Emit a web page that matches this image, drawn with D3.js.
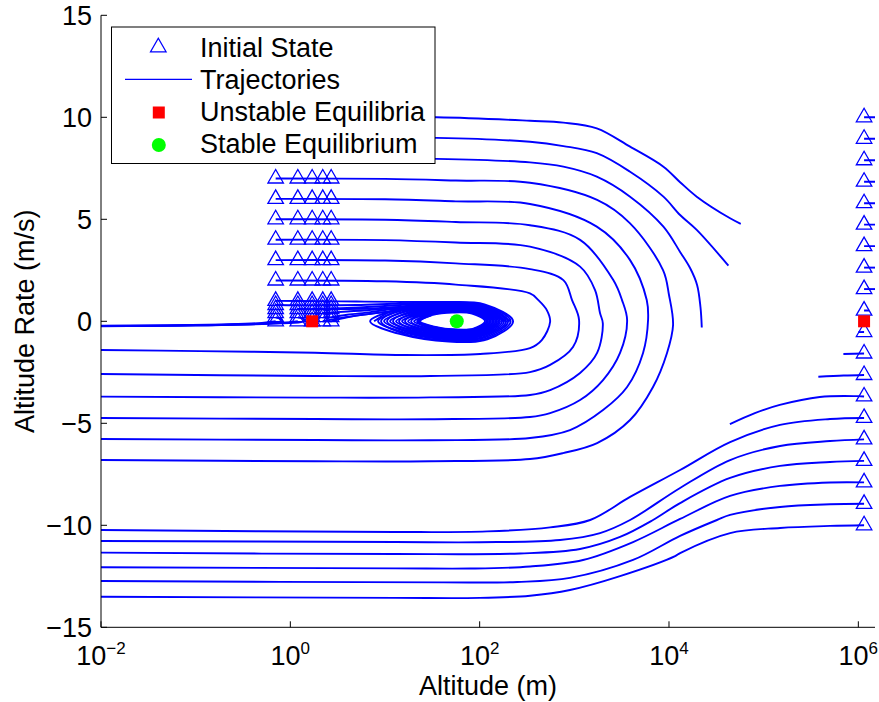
<!DOCTYPE html>
<html><head><meta charset="utf-8">
<script src="https://cdn.jsdelivr.net/npm/d3@7"></script>
<style>body{margin:0;background:#fff}svg{display:block}text{font-family:"Liberation Sans",Arial,Helvetica,sans-serif}</style>
</head><body><svg id="c" width="879" height="702"></svg>
<script>
// ---------- data ----------
const xTickExponents = [-2, 0, 2, 4, 6];
const yTicks = [-15, -10, -5, 0, 5, 10, 15];
const xDomain = [0.01, 1.5e6];
const yDomain = [-15, 15];

// initial states (left block and right column)
const leftAlt0 = [0.7, 1.2, 1.7, 2.2, 2.7];
const leftRate0 = [10, 9, 8, 7, 6, 5, 4, 3, 2, 1, 0.8, 0.6, 0.4, 0.2, 0];
const rightAlt0 = [1.15e6];
const rightRate0 = [10, 8.947, 7.895, 6.842, 5.789, 4.737, 3.684, 2.632, 1.579, 0.526,
  -0.526, -1.579, -2.632, -3.684, -4.737, -5.789, -6.842, -7.895, -8.947, -10];

// equilibria
const unstableAlt = [1.7, 1.15e6];
const unstableRate = [0, 0];
const stableAlt = [57.3];
const stableRate = [0];

// trajectories: [altitude (m), altitude rate (m/s)]
const trajTop10 = [[0.7,10],[35,10.0],[340,9.83],[766,9.74],[1726,9.46],[3880,8.56],[8730,7.58],[13100,6.82],[19630,6.11],[44200,5.05],[57300,4.78]];
const trajTop9 = [[0.7,9],[35,8.99],[340,8.8],[766,8.59],[1726,8.24],[3880,7.33],[8730,6.11],[13100,5.21],[19630,4.48],[42400,2.73]];
const trajTop8 = [[0.7,8],[35,7.96],[340,7.79],[766,7.58],[1726,7.09],[3880,6.11],[8730,4.64],[13100,3.4],[16700,2.61],[19800,1.78],[21500,0.7],[22200,-0.3]];
const trajU7 = [[0.7,7],[10,6.98],[56,6.9],[340,6.79],[1740,5.95],[3880,4.8],[8650,2.51],[10000,1.29],[11040,-0.18],[9530,-1.55],[6780,-3.22],[3880,-4.84],[1740,-5.97],[760,-6.46],[340,-6.75],[30,-6.86],[1.82,-6.86],[0.01,-6.8]];
const trajU6 = [[0.7,6],[10,5.98],[56,5.88],[340,5.75],[1726,4.64],[3880,3.0],[5820,1.04],[6010,0.06],[5320,-1.55],[3610,-3.22],[2010,-4.35],[900,-5.33],[340,-5.72],[30,-5.83],[1.82,-5.82],[0.01,-5.77]];
const trajU5 = [[0.7,5],[10,4.98],[56,4.87],[340,4.71],[1150,3.99],[2580,2.02],[3190,1.04],[3610,0.06],[3040,-1.55],[2010,-2.88],[1150,-3.86],[555,-4.5],[340,-4.69],[30,-4.8],[1.82,-4.79],[0.01,-4.74]];
const trajU4 = [[0.7,4],[10,3.98],[56,3.86],[340,3.66],[1150,2.68],[1656,1.53],[1870,0.39],[2000,-0.1],[1740,-1.55],[1150,-2.53],[555,-3.37],[340,-3.61],[30,-3.73],[1.82,-3.74],[0.01,-3.69]];
const trajU3 = [[0.7,3],[10,2.98],[56,2.84],[340,2.56],[766,2.02],[946,1.04],[1122,0.06],[968,-1.26],[555,-2.14],[340,-2.49],[30,-2.68],[1.82,-2.68],[0.01,-2.58]];
const trajU2 = [[0.7,2],[10,1.96],[56,1.8],[340,1.37],[417,1.04],[512,0.55],[555,-0.02],[453,-0.92],[340,-1.31],[101,-1.6],[14.4,-1.65],[1.82,-1.54],[0.111,-1.46],[0.01,-1.41]];
const trajSpiral = [[0.7,1.0],[2,0.99],[5,0.97],[13,0.95],[39.6,0.946],[112.4,0.832],[225.4,0],[120.5,-0.891],[47.1,-0.99],[14.95,-0.644],[6.96,0],
  [14.93,0.629],[41.1,0.873],[106,0.768],[199.5,0],[112.9,-0.803],[48.1,-0.892],[16.94,-0.58],[8.45,0],
  [16.54,0.575],[42.1,0.799],[101,0.703],[181,0],[107.1,-0.715],[48.7,-0.794],[18.58,-0.516],[9.78,0],
  [18.31,0.522],[43.1,0.725],[96.2,0.638],[164.3,0],[101.5,-0.649],[49.3,-0.721],[20.4,-0.469],[11.31,0],
  [20.4,0.469],[44.7,0.652],[93.4,0.574],[152.7,0],[98.1,-0.582],[50.5,-0.647],[22.5,-0.421],[13.09,0],
  [22.7,0.416],[46.4,0.578],[90.7,0.509],[141.9,0],[94.9,-0.517],[51.9,-0.574],[24.8,-0.373],[15.15,0],
  [25.2,0.381],[48.1,0.529],[88.1,0.466],[131.9,0],[91.8,-0.45],[53.2,-0.5],[27.3,-0.325],[17.53,0],
  [28.0,0.346],[49.9,0.48],[85.6,0.422],[122.7,0],[88.7,-0.383],[54.6,-0.426],[30.1,-0.277],[20.3,0],
  [31.2,0.31],[51.7,0.431],[83.1,0.379],[114,0],[85.8,-0.362],[56,-0.402],[33.2,-0.261],[23.5,0],[31.5,0.3]];
const trajSpiral2 = [[7.67,0],[13.94,0.657],[40.3,0.912],[109.1,0.803],[212.1,0],[116.7,-0.847],[47.6,-0.941],[15.92,-0.612],
  [9.09,0],[15.71,0.603],[41.6,0.838],[103.5,0.737],[190.1,0],[109.9,-0.759],[48.4,-0.843],[17.74,-0.548],
  [10.52,0],[17.4,0.551],[42.6,0.765],[98.6,0.673],[172.5,0],[104.2,-0.68],[49.0,-0.755],[19.46,-0.491],
  [12.17,0],[19.32,0.498],[43.9,0.691],[94.8,0.608],[158.3,0],[99.8,-0.613],[49.9,-0.681],[21.4,-0.443],
  [14.08,0],[21.5,0.445],[45.5,0.618],[92.1,0.544],[147.2,0],[96.5,-0.547],[51.2,-0.608],[23.6,-0.395],
  [16.29,0],[23.9,0.399],[47.2,0.554],[89.4,0.488],[136.9,0],[93.3,-0.481],[52.5,-0.534],[26.0,-0.347],
  [18.86,0],[26.6,0.364],[49.0,0.505],[86.9,0.444],[127.3,0],[90.2,-0.415],[53.9,-0.461],[28.7,-0.3],
  [21.83,0],[29.6,0.328],[50.8,0.456],[84.4,0.401],[118.3,0],[87.3,-0.371],[55.3,-0.412],[31.6,-0.268],[22.8,0],[30.5,0.29]];
const trajEntry1 = [[2.7,0.2],[4,0.32],[7,0.45],[12,0.6],[20,0.72],[43,0.8],[100,0.7],[181,0]];
const trajEntry2 = [[2.2,0.4],[4,0.48],[8,0.58],[15,0.7],[30,0.8],[60,0.82],[110,0.68],[190,0]];
const trajEntry3 = [[1.7,0.6],[4,0.65],[10,0.75],[25,0.86],[45,0.9],[110,0.79],[210,0]];
const trajEntry4 = [[0.7,0.8],[2,0.78],[5,0.8],[12,0.86],[30,0.92],[60,0.9]];
const trajEntry5 = [[1.2,0.6],[3,0.6],[7,0.63],[15,0.72],[35,0.8]];
const trajEntry6 = [[2.2,0],[3,0.12],[5,0.28],[10,0.45],[18,0.6],[35,0.7]];
const trajEntry7 = [[2.7,0],[4,0.2],[8,0.4],[15,0.55],[30,0.66]];
const trajFall1 = [[0.7,0],[0.5,-0.08],[0.2,-0.15],[0.05,-0.2],[0.01,-0.23]];
const trajFall2 = [[1.2,0],[1.0,-0.05],[0.5,-0.12],[0.1,-0.19],[0.01,-0.24]];
const trajFall3 = [[0.7,0.2],[0.8,0.1],[0.82,0],[0.6,-0.1],[0.1,-0.2],[0.01,-0.22]];
const trajFall4 = [[1.2,0.2],[1.4,0.08],[1.35,-0.02],[0.8,-0.1],[0.1,-0.2],[0.01,-0.23]];
// right column
const trajR10 = [[1.15e6,10],[2e6,10]];
const trajR9 = [[1.15e6,8.947],[2e6,8.947]];
const trajR8 = [[1.15e6,7.895],[2e6,7.895]];
const trajR7 = [[1.15e6,6.842],[2e6,6.842]];
const trajR6 = [[1.15e6,5.789],[2e6,5.789]];
const trajR5 = [[1.15e6,4.737],[2e6,4.737]];
const trajR4 = [[1.15e6,3.684],[2e6,3.684]];
const trajR3 = [[1.15e6,2.632],[2e6,2.632]];
const trajR2 = [[1.15e6,1.579],[2e6,1.579]];
const trajR1 = [[1.15e6,0.526],[1.3e6,0.53]];
const trajRm1 = [[1.15e6,-0.526],[1.0e6,-0.53]];
const trajRm2 = [[1.15e6,-1.579],[695000,-1.6]];
const trajRm3 = [[1.15e6,-2.632],[700000,-2.66],[378000,-2.72]];
const trajRm4 = [[1.15e6,-3.684],[970000,-3.67],[392000,-3.71],[148000,-4.1],[80700,-4.5],[44000,-5.04]];
const trajRm5 = [[1.15e6,-4.737],[502000,-4.79],[149000,-5.08],[44200,-5.92],[13100,-7.29],[3880,-8.61],[1470,-9.74],[555,-10.1],[120,-10.3],[12.8,-10.33],[0.01,-10.23]];
const trajRm6 = [[1.15e6,-5.789],[502000,-5.87],[149000,-6.11],[44200,-6.8],[13100,-8.17],[3880,-9.74],[1870,-10.38],[706,-10.72],[100,-10.83],[12.8,-10.82],[0.01,-10.77]];
const trajRm7 = [[1.15e6,-6.842],[502000,-6.9],[149000,-7.09],[44200,-7.68],[13100,-8.91],[6780,-9.74],[3040,-10.57],[1148,-11.16],[267,-11.38],[12.8,-11.41],[0.01,-11.34]];
const trajRm8 = [[1.15e6,-7.895],[502000,-7.9],[149000,-8.07],[44200,-8.56],[13100,-9.69],[4170,-10.82],[1235,-11.7],[341,-12.02],[80,-12.12],[12.8,-12.11],[0.01,-12.06]];
const trajRm9 = [[1.15e6,-8.947],[502000,-8.97],[149000,-9.1],[44200,-9.49],[32100,-9.74],[13100,-10.52],[4170,-11.7],[900,-12.58],[250,-12.78],[40,-12.8],[0.01,-12.73]];
const trajRm10 = [[1.15e6,-10],[502000,-10.03],[149000,-10.13],[44200,-10.38],[13100,-11.36],[11600,-11.51],[3040,-12.49],[900,-13.17],[341,-13.45],[100,-13.56],[12.8,-13.56],[0.01,-13.5]];

const trajectories = [trajTop10, trajTop9, trajTop8, trajU7, trajU6, trajU5, trajU4, trajU3, trajU2, trajSpiral, trajSpiral2,
  trajEntry1, trajEntry2, trajEntry3, trajEntry4, trajEntry5, trajEntry6, trajEntry7,
  trajFall1, trajFall2, trajFall3, trajFall4,
  trajR10, trajR9, trajR8, trajR7, trajR6, trajR5, trajR4, trajR3, trajR2, trajR1, trajRm1, trajRm2, trajRm3, trajRm4,
  trajRm5, trajRm6, trajRm7, trajRm8, trajRm9, trajRm10];

const legendLabels = ["Initial State", "Trajectories", "Unstable Equilibria", "Stable Equilibrium"];

// ---------- drawing ----------
const svg = d3.select("#c");
const M = {left: 101, right: 875, top: 15.3, bottom: 627.3};
const x = d3.scaleLog().domain(xDomain).range([M.left, M.right]);
const y = d3.scaleLinear().domain(yDomain).range([M.bottom, M.top]);
const BLUE = "#0000ff", RED = "#ff0000", GREEN = "#00ff00";
const FS = 27;

svg.append("clipPath").attr("id", "clip").append("rect")
  .attr("x", M.left).attr("y", M.top).attr("width", M.right - M.left).attr("height", M.bottom - M.top);

const plot = svg.append("g").attr("clip-path", "url(#clip)");
const line = d3.line().x(d => x(d[0])).y(d => y(d[1])).curve(d3.curveCatmullRom.alpha(0.5));
plot.selectAll("path.traj").data(trajectories).join("path").attr("class", "traj")
  .attr("d", line).attr("fill", "none").attr("stroke", BLUE).attr("stroke-width", 1.9)
  .attr("stroke-linejoin", "round");

// triangle marker, centroid at the data point
const TW = 15.5, TH = 13.5;
const triPath = `M0,${-2*TH/3}L${TW/2},${TH/3}L${-TW/2},${TH/3}Z`;
const initStates = [];
leftRate0.forEach(v => leftAlt0.forEach(a => initStates.push([a, v])));
rightRate0.forEach(v => rightAlt0.forEach(a => initStates.push([a, v])));
plot.selectAll("path.tri").data(initStates).join("path").attr("class", "tri")
  .attr("d", triPath).attr("transform", d => `translate(${x(d[0])},${y(d[1])})`)
  .attr("fill", "none").attr("stroke", BLUE).attr("stroke-width", 1.3);

plot.selectAll("rect.ueq").data(d3.zip(unstableAlt, unstableRate)).join("rect").attr("class", "ueq")
  .attr("x", d => x(d[0]) - 6).attr("y", d => y(d[1]) - 6).attr("width", 12).attr("height", 12).attr("fill", RED);
plot.selectAll("circle.seq").data(d3.zip(stableAlt, stableRate)).join("circle").attr("class", "seq")
  .attr("cx", d => x(d[0])).attr("cy", d => y(d[1])).attr("r", 7).attr("fill", GREEN);

// axes
const ax = svg.append("g").attr("stroke", "#000").attr("stroke-width", 1);
ax.append("line").attr("x1", M.left).attr("x2", M.left).attr("y1", M.top).attr("y2", M.bottom);
ax.append("line").attr("x1", M.left).attr("x2", M.right).attr("y1", M.bottom).attr("y2", M.bottom);
yTicks.forEach(t => ax.append("line").attr("x1", M.left).attr("x2", M.left + 6).attr("y1", y(t)).attr("y2", y(t)));
xTickExponents.forEach(e => ax.append("line").attr("x1", x(Math.pow(10, e))).attr("x2", x(Math.pow(10, e))).attr("y1", M.bottom).attr("y2", M.bottom - 6));

const minus = s => String(s).replace("-", "\u2212");
svg.selectAll("text.yt").data(yTicks).join("text").attr("class", "yt")
  .attr("x", M.left - 9).attr("y", d => y(d)).attr("dy", "0.36em").attr("text-anchor", "end")
  .attr("font-size", FS).text(d => minus(d));
const xt = svg.selectAll("text.xt").data(xTickExponents).join("text").attr("class", "xt")
  .attr("x", d => x(Math.pow(10, d))).attr("y", 665).attr("text-anchor", "middle").attr("font-size", FS);
xt.append("tspan").text("10");
xt.append("tspan").attr("dy", -11).attr("font-size", 17).text(d => minus(d));

svg.append("text").attr("x", (M.left + M.right) / 2).attr("y", 695).attr("text-anchor", "middle")
  .attr("font-size", FS).text("Altitude (m)");
svg.append("text").attr("transform", `translate(34,${y(0)}) rotate(-90)`).attr("text-anchor", "middle")
  .attr("font-size", FS).text("Altitude Rate (m/s)");

// legend
const lg = svg.append("g");
lg.append("rect").attr("x", 111.5).attr("y", 27).attr("width", 323.5).attr("height", 136.5)
  .attr("fill", "#fff").attr("stroke", "#000").attr("stroke-width", 1);
const rowY = [47.3, 79.3, 112.5, 145];
const baseY = [56.7, 88.7, 120.7, 153.3];
lg.append("path").attr("d", triPath).attr("transform", `translate(158.3,${rowY[0]})`)
  .attr("fill", "none").attr("stroke", BLUE).attr("stroke-width", 1.3);
lg.append("line").attr("x1", 125).attr("x2", 192).attr("y1", rowY[1]).attr("y2", rowY[1]).attr("stroke", BLUE).attr("stroke-width", 1.3);
lg.append("rect").attr("x", 158.8 - 6).attr("y", rowY[2] - 6).attr("width", 12).attr("height", 12).attr("fill", RED);
lg.append("circle").attr("cx", 158.8).attr("cy", rowY[3]).attr("r", 7).attr("fill", GREEN);
lg.selectAll("text").data(legendLabels).join("text").attr("x", 200).attr("y", (d, i) => baseY[i])
  .attr("font-size", FS).text(d => d);
</script></body></html>
